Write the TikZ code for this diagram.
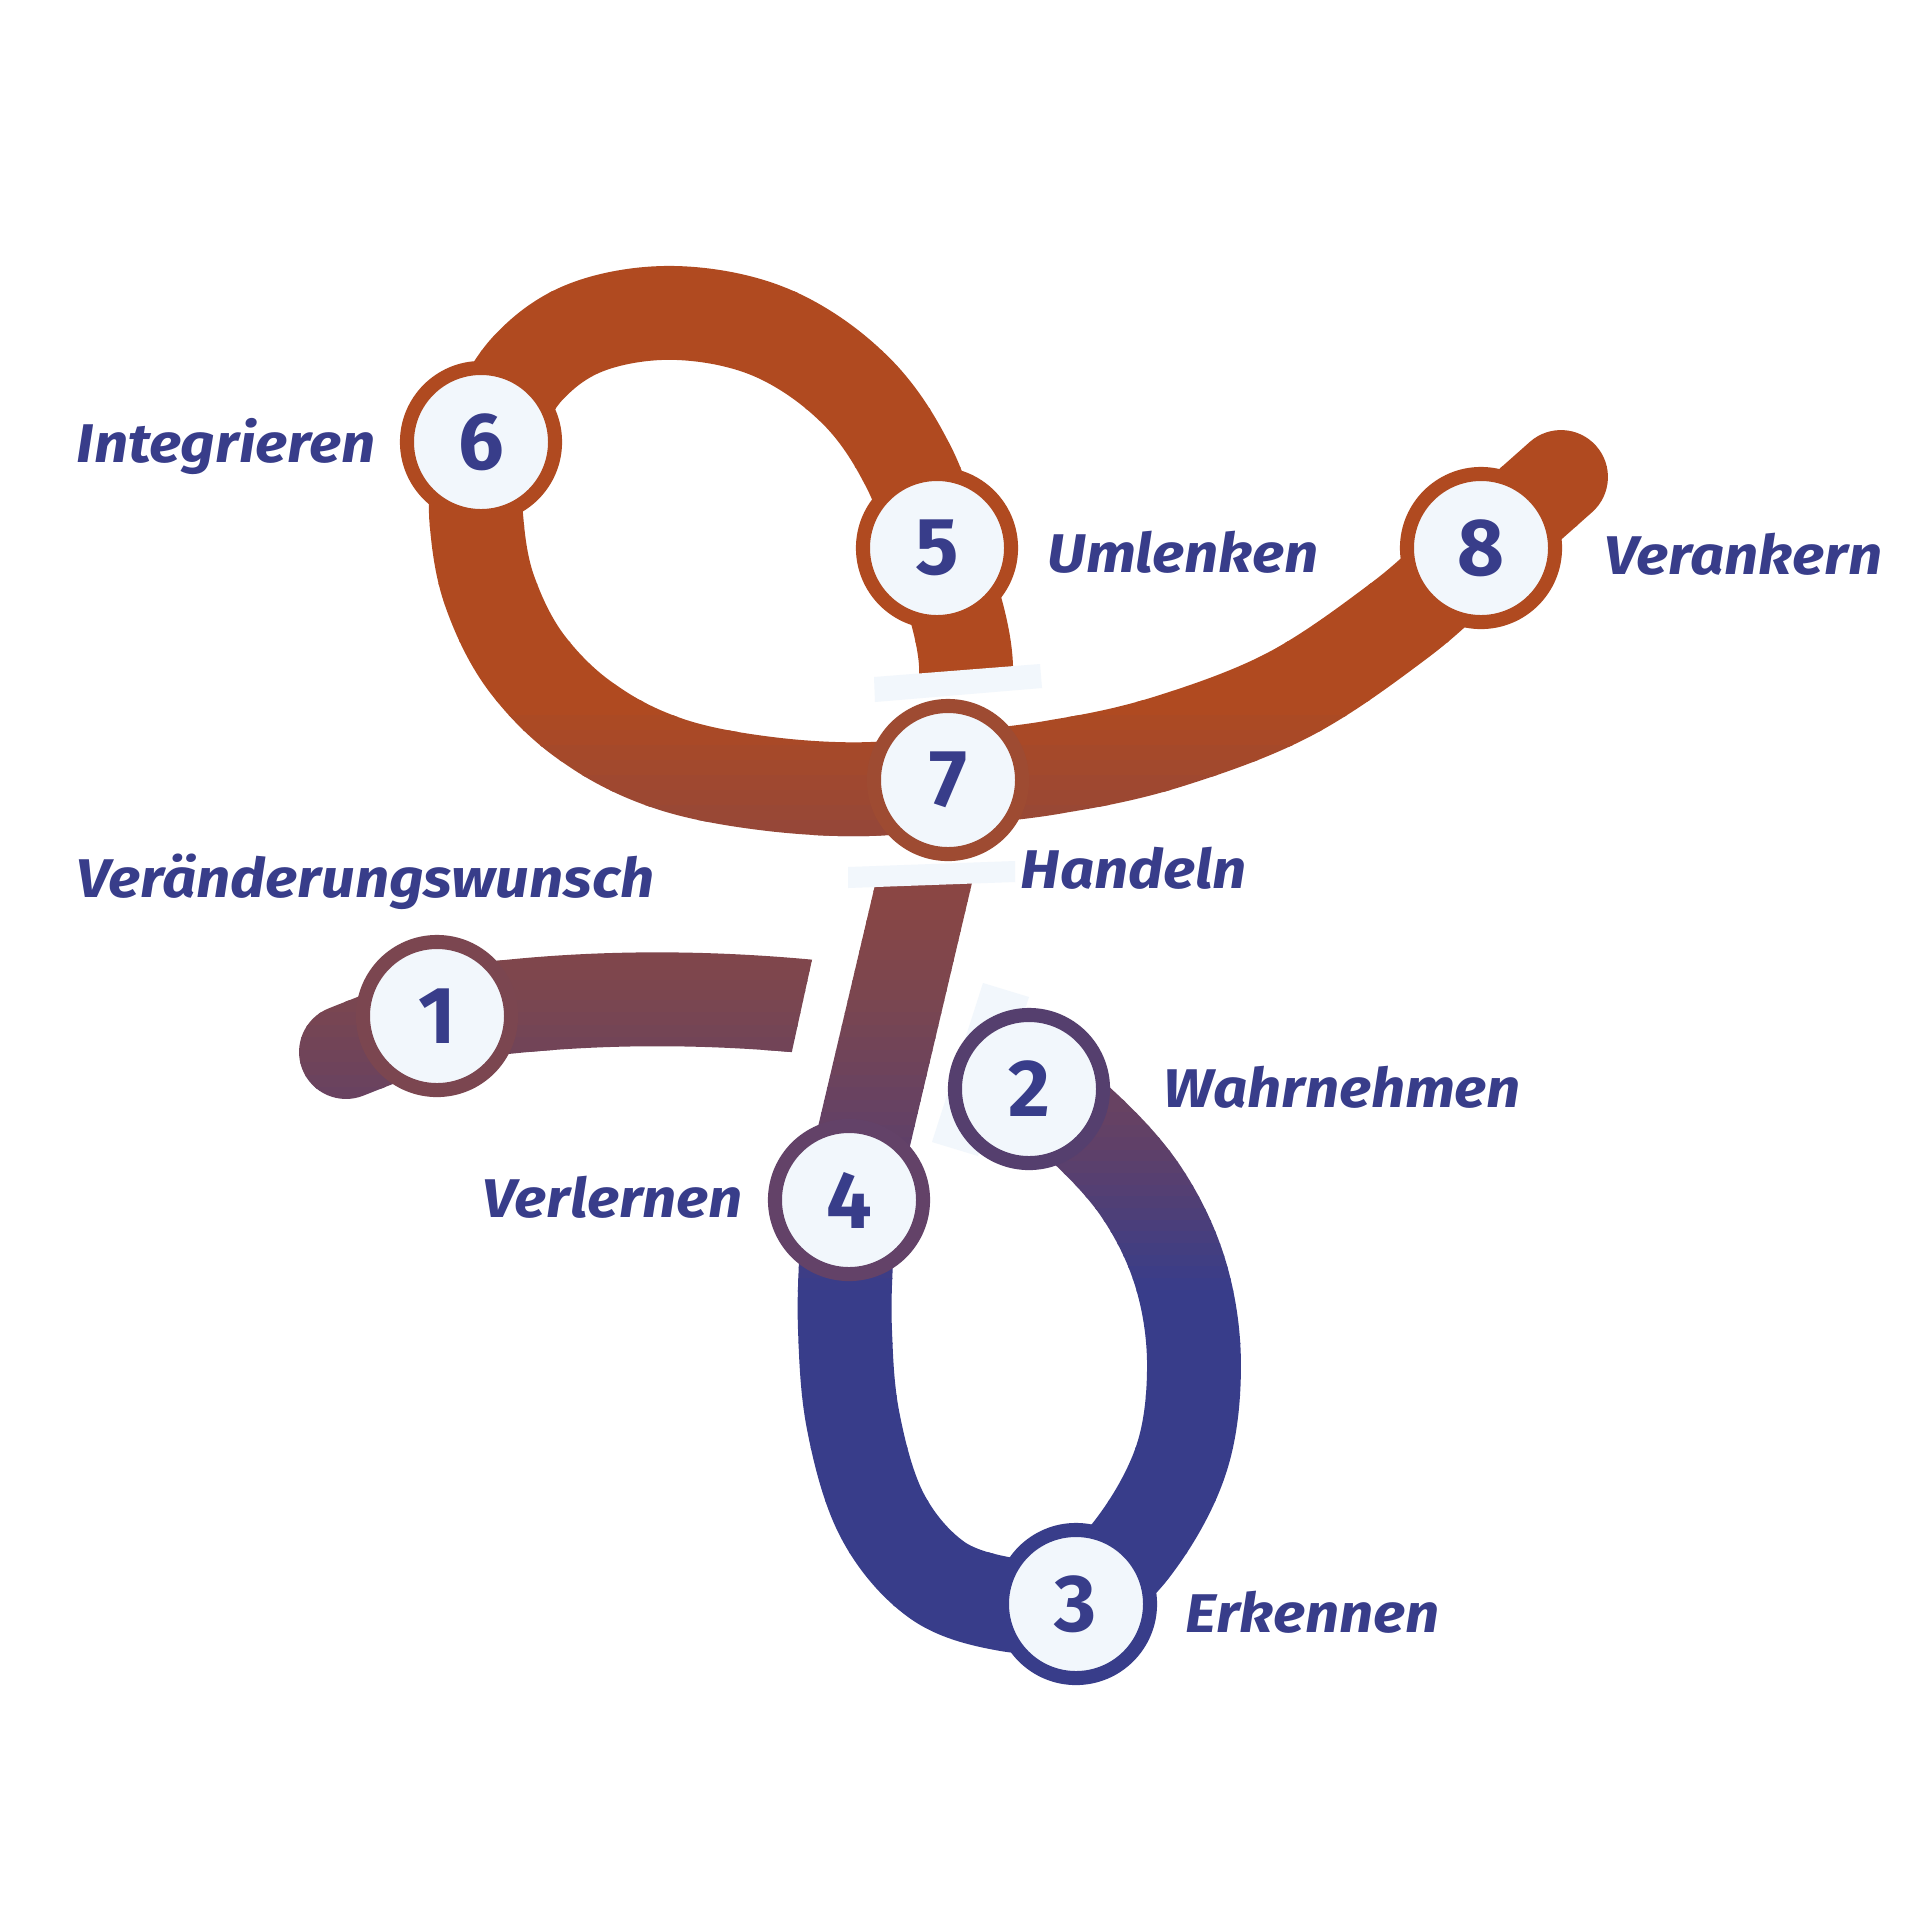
\documentclass[tikz,border=0pt]{standalone}
\usepackage{fontspec}
\setmainfont{Fira Sans}
\newfontfamily\lblfont{Fira Sans}[FakeStretch=1.1]
\usepackage{tikz}
\usetikzlibrary{backgrounds}
\definecolor{rorange}{RGB}{176,74,32}
\definecolor{rbrown}{RGB}{140,70,66}
\definecolor{rmauve}{RGB}{122,70,80}
\definecolor{rplum}{RGB}{95,64,105}
\definecolor{rblue}{RGB}{56,61,138}
\definecolor{rlight}{RGB}{242,247,252}
\definecolor{ring1}{RGB}{123,70,80}
\definecolor{ring2}{RGB}{85,63,110}
\definecolor{ring4}{RGB}{99,66,104}
\definecolor{ring7}{RGB}{158,75,50}
\tikzset{
  ribbon/.style={line width=26.7pt, line cap=round, line join=round},
  station/.style={circle, draw=#1, line width=4pt, fill=rlight, minimum size=1.48cm, inner sep=0pt, text=rblue, font=\fontsize{23}{23}\selectfont\bfseries},
  lbl/.style={anchor=base west, inner sep=0pt, text=rblue, font=\lblfont\fontsize{15.5}{18}\selectfont\bfseries\itshape},
  mask/.style={fill=rlight},
}
% ribbon with a vertical colour run, drawn in clipped bands
\newcommand\ribbonpath[1]{%
  \foreach \ya/\yb/\ca/\cb in {0/700/rorange/rorange, 700/880/rorange/rbrown, 880/1000/rbrown/rmauve, 1000/1150/rmauve/rplum, 1150/1290/rplum/rblue, 1290/1920/rblue/rblue}{%
    \foreach \k in {1,...,12}{%
      \pgfmathsetmacro\yfrom{\ya+(\yb-\ya)*(\k-1)/12}%
      \pgfmathsetmacro\yto{\ya+(\yb-\ya)*\k/12+1}%
      \pgfmathsetmacro\mix{100*(\k-0.5)/12}%
      \colorlet{bandcol}{\cb!\mix!\ca}%
      \begin{scope}
        \clip (0,\yfrom) rectangle (1920,\yto);
        \draw[ribbon, draw=bandcol] #1;
      \end{scope}}}}

\begin{document}
\begin{tikzpicture}[x=0.01cm, y=-0.01cm]
  \useasboundingbox (0,0) rectangle (1920,1920);

  % stations
  \node[station=ring1]   (s1) at (437,1016) {1};
  \node[station=ring2]   (s2) at (1029,1089) {2};
  \node[station=rblue]   (s3) at (1076,1604) {3};
  \node[station=ring4]   (s4) at (849,1200) {4};
  \node[station=rorange] (s5) at (937,548) {5};
  \node[station=rorange] (s6) at (481,442) {6};
  \node[station=ring7]   (s7) at (948,780) {7};
  \node[station=rorange] (s8) at (1481,548) {8};

  % labels
  \node[lbl] (t0) at (76,897) {Veränderungswunsch};
  \node[lbl] (t2) at (1163,1107) {Wahrnehmen};
  \node[lbl] (t3) at (1185,1632) {Erkennen};
  \node[lbl] (t4) at (482,1217) {Verlernen};
  \node[lbl] (t5) at (1047,572) {Umlenken};
  \node[lbl] (t6) at (76,462) {Integrieren};
  \node[lbl] (t7) at (1020,888) {Handeln};
  \node[lbl] (t8) at (1604,574) {Verankern};

  \begin{scope}[on background layer]
    \fill[white] (0,0) rectangle (1920,1920);
    % 1 -> (under) 2
    \begin{scope}
      \clip (0,800) -- (847,800) -- (778,1115) -- (0,1115) -- cycle;
      \ribbonpath{(346,1052) -- (s1.center) .. controls (540,1000) and (680,990) .. (860,1012)}
    \end{scope}
    % 2 -> 3
    \ribbonpath{(s2.center) .. controls (1037,1095) and (1060,1105) .. (1078,1122)
      .. controls (1097,1139) and (1123,1165) .. (1140,1190)
      .. controls (1157,1215) and (1171,1243) .. (1180,1272)
      .. controls (1189,1301) and (1194,1334) .. (1194,1365)
      .. controls (1194,1396) and (1191,1430) .. (1181,1460)
      .. controls (1171,1490) and (1153,1521) .. (1135,1545)
      .. controls (1118,1569) and (1086,1594) .. (s3.center)}
    % 3 -> 4
    \ribbonpath{(s3.center) .. controls (1065,1604) and (1033,1609) .. (1010,1605)
      .. controls (987,1601) and (958,1595) .. (937,1580)
      .. controls (916,1565) and (896,1542) .. (882,1515)
      .. controls (868,1488) and (859,1451) .. (853,1420)
      .. controls (847,1389) and (846,1356) .. (845,1330)
      .. controls (844,1304) and (845,1284) .. (846,1262)
      .. controls (847,1240) and (848,1210) .. (s4.center)}
    \fill[mask] (983,983) -- (1029,997) -- (978,1156) -- (932,1142) -- cycle;
    % 4 -> 7 -> 5 -> 6
    \ribbonpath{(s4.center) -- (s7.center)}
    \ribbonpath{(s7.center) .. controls (951,761) and (968,704) .. (966,665)
      .. controls (964,626) and (947,582) .. (s5.center)
      .. controls (927,514) and (920,487) .. (905,460)
      .. controls (891,433) and (873,406) .. (850,385)
      .. controls (828,364) and (799,344) .. (770,332)
      .. controls (741,320) and (707,314) .. (677,313)
      .. controls (647,312) and (615,317) .. (590,326)
      .. controls (565,335) and (546,349) .. (528,368)
      .. controls (510,387) and (489,430) .. (s6.center)}
    \fill[white] (874,690) -- (1041,676) -- (1015,872) -- (848,878) -- cycle;
    % 6 -> 7 -> 8
    \ribbonpath{(s6.center) .. controls (480,454) and (475,490) .. (476,515)
      .. controls (478,540) and (481,567) .. (490,592)
      .. controls (499,617) and (511,643) .. (528,665)
      .. controls (545,687) and (566,708) .. (590,724)
      .. controls (614,741) and (640,754) .. (670,764)
      .. controls (700,774) and (737,780) .. (770,784)
      .. controls (803,788) and (840,790) .. (870,789)
      .. controls (900,788) and (916,784) .. (s7.center)
      .. controls (980,776) and (1023,773) .. (1060,766)
      .. controls (1097,760) and (1132,753) .. (1170,741)
      .. controls (1208,729) and (1252,714) .. (1290,694)
      .. controls (1328,674) and (1368,644) .. (1400,620)
      .. controls (1432,596) and (1454,572) .. (s8.center)
      -- (1561,477)}
    \fill[mask] (874,677) -- (1040,664) -- (1042,688) -- (875,702) -- cycle;
    \fill[mask] (848,867) -- (1015,861) -- (1015,882) -- (848,888) -- cycle;
  \end{scope}
\end{tikzpicture}
\end{document}
